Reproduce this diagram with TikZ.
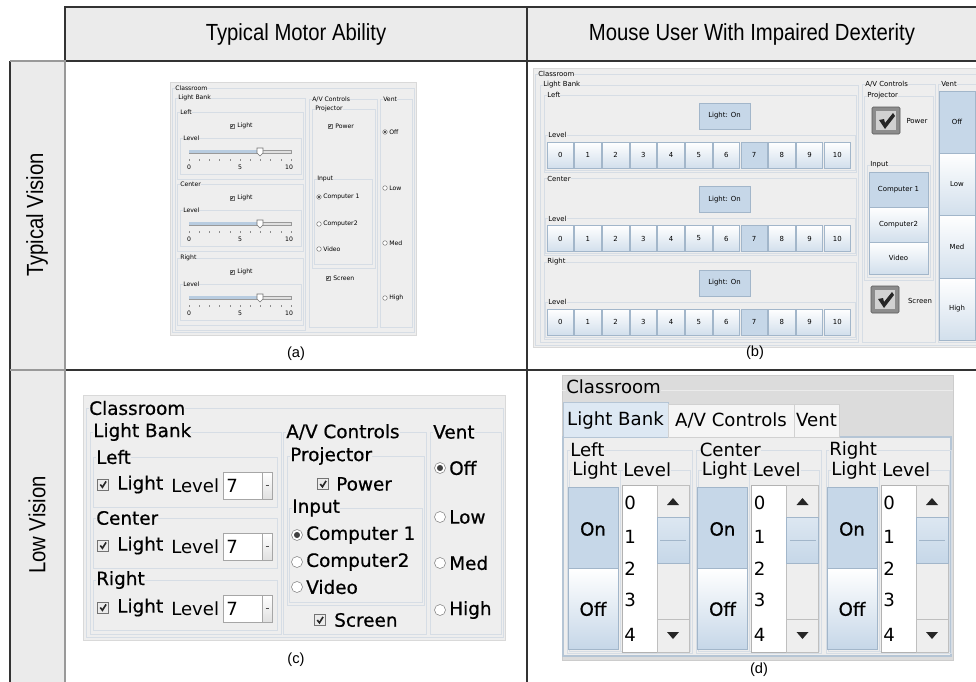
\documentclass[tikz,border=0pt]{standalone}
\usepackage{fontspec}
\setmainfont{Liberation Sans}
\newfontfamily\uifont{DejaVu Sans}
\newfontfamily\uisemi{DejaVu Sans}[FakeBold=0.6]

\definecolor{cellgray}{HTML}{EBEBEB}
\definecolor{winbg}{HTML}{EEEEEE}
\definecolor{grpcol}{HTML}{D6DDE5}
\definecolor{selblue}{HTML}{C6D7E8}
\definecolor{btnblue}{HTML}{D2DFEC}
\definecolor{btnedge}{HTML}{A2B6CA}
\definecolor{trkblue}{HTML}{B8CCE0}
\definecolor{darkwin}{HTML}{DCDCDC}
\definecolor{tabsel}{HTML}{DDE8F3}

\tikzset{
  tabline/.style={draw=black!80,line width=0.9pt},
  tabgray/.style={draw=black!40,line width=0.9pt},
  hdr/.style={font=\fontsize{17.5}{20}\selectfont,inner sep=0pt},
  capt/.style={font=\fontsize{11}{13}\selectfont,inner sep=0pt},
  win/.style={fill=winbg,draw=black!15},
  grpline/.style={draw=grpcol,line width=0.7pt},
  grptitle/.style={anchor=west,fill=winbg,inner xsep=0.6pt,inner ysep=0pt},
  afont/.style={font=\uifont\fontsize{4.6}{5}\selectfont,inner sep=0pt},
  bfont/.style={font=\uifont\fontsize{5.2}{6}\selectfont,inner sep=0pt},
  cfont/.style={font=\uisemi\fontsize{13.8}{16}\selectfont,inner sep=0pt},
  dfont/.style={font=\uifont\fontsize{13.6}{16}\selectfont,inner sep=0pt},
  chkbox/.style={fill=black!8,draw=black!55,line width=0.4pt},
  radio/.style={fill=white,draw=black!50,line width=0.4pt},
  raddot/.style={fill=black!75},
  bbtn/.style={top color=white,bottom color=btnblue,draw=btnedge,line width=0.5pt},
  bsel/.style={fill=selblue,draw=btnedge,line width=0.5pt},
  trk/.style={fill=black!12,draw=black!40,line width=0.3pt},
  thumb/.style={fill=white,draw=black!55,line width=0.4pt},
  scr/.style={fill=winbg,draw=black!25,line width=0.5pt}
}

% narrow header text
\newcommand{\hd}[1]{\scalebox{0.87}[1]{#1}}
% titled group box: name, x1, y1, x2, y2, title, font
\newcommand{\grp}[7]{%
  \draw[grpline] (#2,#3) rectangle (#4,#5);
  \node[grptitle,#7] (#1) at (#2+3,#3) {#6};
}
% check box: x, y, size
\newcommand{\chk}[3]{%
  \draw[chkbox] (#1-#3/2,#2-#3/2) rectangle (#1+#3/2,#2+#3/2);
  \draw[draw=black!85,line width=#3*0.11pt] (#1-#3*0.25,#2) -- (#1-#3*0.05,#2+#3*0.25) -- (#1+#3*0.28,#2-#3*0.28);
}
% radio: x, y, radius, selected
\newcommand{\rad}[4]{%
  \draw[radio] (#1,#2) circle[radius=#3];
  \ifnum#4=1\relax \fill[raddot] (#1,#2) circle[radius=#3*0.55];\fi
}
% large check box for the dexterity version
\newcommand{\bigchk}[2]{%
  \draw[fill=black!45,draw=black!65,rounded corners=1pt] (#1,#2) rectangle ++(28,27);
  \fill[black!18] (#1+4,#2+4) rectangle ++(20,19);
  \fill[black!85] (#1+7,#2+13) -- (#1+12,#2+12) -- (#1+13,#2+16) -- (#1+21,#2+6) -- (#1+23,#2+9) -- (#1+13,#2+22) -- cycle;
}

\begin{document}
\begin{tikzpicture}[x=0.75pt,y=-0.75pt]
\useasboundingbox (0,0) rectangle (976,682);

% table
\fill[cellgray] (65,7) rectangle (990,61);
\fill[cellgray] (10,61) rectangle (65,690);
\draw[tabline] (65,61) -- (65,7) -- (990,7);
\draw[tabline] (65,61) -- (990,61);
\draw[tabline] (527,7) -- (527,690);
\draw[tabline] (65,370) -- (990,370);
\draw[tabline] (10,690) -- (10,61);
\draw[tabgray] (10,61) -- (65,61) -- (65,690);
\draw[tabgray] (10,370) -- (65,370);

\node[hdr] (hmot) at (296,34) {\hd{Typical Motor Ability}};
\node[hdr] (himp) at (752,34) {\hd{Mouse User With Impaired Dexterity}};
\node[hdr,rotate=90] (vtyp) at (37,215) {\hd{Typical Vision}};
\node[hdr,rotate=90] (vlow) at (37,525) {\hd{Low Vision}};

% (a) typical vision, typical motor
\draw[win] (170,82) rectangle (416,335);
\grp{aclass}{172}{88}{414}{332}{Classroom}{afont}
\grp{abank}{175}{98}{305}{330}{Light Bank}{afont}
\foreach \y/\t in {112/Left,184/Center,258/Right}{
  \grp{a\t}{177}{\y}{303}{\y+67}{\t}{afont}
  \chk{232}{\y+14}{4}
  \node[afont,anchor=west] (a\t L) at (237,\y+14) {Light};
  \grp{a\t V}{180}{\y+26}{301}{\y+62}{Level}{afont}
  \draw[trk] (189,\y+38) rectangle (291,\y+41);
  \fill[trkblue] (189,\y+38) rectangle (260,\y+41);
  \draw[thumb] (257,\y+36) -- (263,\y+36) -- (263,\y+41) -- (260,\y+44) -- (257,\y+41) -- cycle;
  \foreach \k in {0,...,10}
    \draw[black!45,line width=0.3pt] (189+\k*10.2,\y+47) -- ++(0,2);
  \node[afont] (a\t n0) at (189,\y+55) {0};
  \node[afont] (a\t n5) at (240,\y+55) {5};
  \node[afont] (a\t n10) at (289,\y+55) {10};
}
\grp{aav}{309}{99}{377}{327}{A/V Controls}{afont}
\grp{aproj}{312}{109}{375}{268}{Projector}{afont}
\chk{330}{126}{4}
\node[afont,anchor=west] (apow) at (335,126) {Power};
\grp{ainp}{314}{179}{372}{264}{Input}{afont}
\foreach \y/\t/\s [count=\i] in {197/Computer 1/1,224/Computer2/0,249/Video/0}{
  \rad{319}{\y}{2.3}{\s}
  \node[afont,anchor=west] (ain\i) at (323,\y) {\t};
}
\chk{328}{278}{4}
\node[afont,anchor=west] (ascr) at (333,278) {Screen};
\grp{avent}{380}{99}{412}{327}{Vent}{afont}
\foreach \y/\t/\s in {132/Off/1,188/Low/0,243/Med/0,298/High/0}{
  \rad{385}{\y}{2.3}{\s}
  \node[afont,anchor=west] (av\t) at (389,\y) {\t};
}
\node[capt] (capa) at (296,354) {(a)};

% (b) typical vision, impaired dexterity
\draw[win] (533,68) rectangle (990,347);
\grp{bclass}{535}{74}{990}{345}{Classroom}{bfont}
\grp{bbank}{540}{85}{858}{342}{Light Bank}{bfont}
\foreach \y/\t in {95/Left,178.5/Center,262/Right}{
  \grp{b\t}{544}{\y}{856}{\y+77}{\t}{bfont}
  \draw[bsel] (699,\y+8) rectangle (750,\y+34);
  \node[bfont] (b\t on) at (724.5,\y+21) {Light: On};
  \grp{b\t V}{545}{\y+40}{855}{\y+75}{Level}{bfont}
  \foreach \k in {0,...,10}
    \draw[bbtn] (547+\k*27.7,\y+47) rectangle ++(26.5,26);
  \draw[bsel] (547+7*27.7,\y+47) rectangle ++(26.5,26);
  \foreach \k in {0,...,10}
    \node[bfont] (b\t n\k) at (560.25+\k*27.7,\y+60) {\k};
}
\grp{bav}{862}{84}{935}{342}{A/V Controls}{bfont}
\grp{bproj}{864}{96}{933}{280}{Projector}{bfont}
\bigchk{872}{107}
\node[bfont] (bpow) at (917,121) {Power};
\grp{binp}{867}{165}{930}{277}{Input}{bfont}
\draw[bsel] (869,172) rectangle (928,207);
\draw[bbtn] (869,207) rectangle (928,242);
\draw[bbtn] (869,242) rectangle (928,274);
\node[bfont] (bin1) at (898.5,189.5) {Computer 1};
\node[bfont] (bin2) at (898.5,224.5) {Computer2};
\node[bfont] (bin3) at (898.5,258) {Video};
\bigchk{871}{286}
\node[bfont] (bscr) at (920,301) {Screen};
\grp{bvent}{938}{84}{990}{342}{Vent}{bfont}
\draw[bsel] (939,91) rectangle (975,153);
\node[bfont] (bvOff) at (957,122) {Off};
\foreach \ya/\yb/\t in {153/215/Low,215/278/Med,278/340/High}{
  \draw[bbtn] (939,\ya) rectangle (975,\yb);
  \node[bfont] (bv\t) at (957,{(\ya+\yb)/2}) {\t};
}
\node[capt] (capb) at (755,353) {(b)};

% (c) low vision, typical motor
\draw[win] (83,395) rectangle (505,640);
\grp{cclass}{86}{408}{503}{637}{Classroom}{cfont}
\grp{cbank}{90}{432}{281}{634}{Light Bank}{cfont}
\foreach \y/\t in {457/Left,518/Center,580/Right}{
  \grp{c\t}{93}{\y}{277}{\y+50}{\t}{cfont}
  \chk{103}{\y+27.5}{11}
  \node[cfont,anchor=west] (c\t L) at (117,\y+27.5) {Light};
  \node[dfont,anchor=west] (c\t V) at (171,\y+28.5) {Level};
  \draw[fill=white,draw=black!35] (223,\y+15) rectangle (272,\y+42);
  \draw[top color=white,bottom color=black!12,draw=black!35] (262,\y+15) rectangle (272,\y+42);
  \draw[black!70,line width=0.6pt] (265.5,\y+28.5) -- (268.5,\y+28.5);
  \node[dfont,anchor=west] (c\t n) at (226,\y+28.5) {7};
}
\grp{cav}{283}{432}{426}{634}{A/V Controls}{cfont}
\grp{cproj}{287}{456}{424}{605}{Projector}{cfont}
\chk{323}{484}{11}
\node[cfont,anchor=west] (cpow) at (336,484) {Power};
\grp{cinp}{289}{508}{422}{602}{Input}{cfont}
\foreach \y/\t/\s [count=\i] in {535/Computer 1/1,562/Computer2/0,587/Video/0}{
  \rad{297}{\y}{5.5}{\s}
  \node[cfont,anchor=west] (cin\i) at (306,\y) {\t};
}
\chk{320}{620}{11}
\node[cfont,anchor=west] (cscr) at (334,620) {Screen};
\grp{cvent}{430}{432}{501}{634}{Vent}{cfont}
\foreach \y/\t/\s in {468/Off/1,517/Low/0,563/Med/0,610/High/0}{
  \rad{440}{\y}{5.5}{\s}
  \node[cfont,anchor=west] (cv\t) at (449,\y) {\t};
}
\node[capt] (capc) at (296,660) {(c)};

% (d) low vision, impaired dexterity
\draw[fill=darkwin,draw=black!20] (562,375) rectangle (953,660);
\draw[black!8] (562,390) -- (953,390);
\node[dfont,anchor=west,fill=darkwin] (dclass) at (566,387) {Classroom};
\draw[fill=winbg,draw=btnedge!80,line width=0.8pt] (563,437) rectangle (951,656);
\draw[fill=tabsel,draw=btnedge!80] (563,402) rectangle (668,437);
\draw[fill=black!4,draw=black!18] (668,404) rectangle (794,437);
\draw[fill=black!4,draw=black!18] (794,404) rectangle (839,437);
\node[dfont] (dtab1) at (615.5,420) {Light Bank};
\node[dfont] (dtab2) at (731,420) {A/V Controls};
\node[dfont] (dtab3) at (816.5,420) {Vent};
\foreach \d/\t in {0/Left,129.5/Center,259/Right}{
  \grp{d\t}{567+\d}{450}{692+\d}{653}{\t}{dfont}
  \grp{d\t L}{569+\d}{470}{620+\d}{651}{Light}{dfont}
  \grp{d\t V}{620+\d}{470}{690+\d}{651}{Level}{dfont}
  \draw[bsel] (568+\d,487) rectangle (618+\d,568);
  \draw[top color=white,bottom color=selblue,draw=btnedge] (568+\d,568) rectangle (618+\d,649);
  \node[font=\uisemi\fontsize{13.6}{16}\selectfont,inner sep=0pt] (d\t on) at (593+\d,529) {On};
  \node[font=\uisemi\fontsize{13.6}{16}\selectfont,inner sep=0pt] (d\t off) at (593+\d,609) {Off};
  \draw[fill=white,draw=black!30] (622+\d,485) rectangle (657+\d,652);
  \foreach \n/\yy in {0/503,1/537,2/569,3/600,4/635}
    \node[dfont,anchor=west] (d\t n\n) at (624+\d,\yy) {\n};
  \draw[scr] (657+\d,485) rectangle (689+\d,652);
  \draw[scr] (657+\d,485) rectangle (689+\d,517);
  \draw[scr] (657+\d,619) rectangle (689+\d,652);
  \draw[top color=selblue!60,bottom color=selblue,draw=btnedge] (657+\d,517) rectangle (689+\d,563);
  \draw[btnedge] (660+\d,540) -- (686+\d,540);
  \fill[black!85] (667+\d,505) -- (679+\d,505) -- (673+\d,498) -- cycle;
  \fill[black!85] (667+\d,632) -- (679+\d,632) -- (673+\d,639) -- cycle;
}
\node[capt] (capd) at (759,670) {(d)};
\end{tikzpicture}
\end{document}
